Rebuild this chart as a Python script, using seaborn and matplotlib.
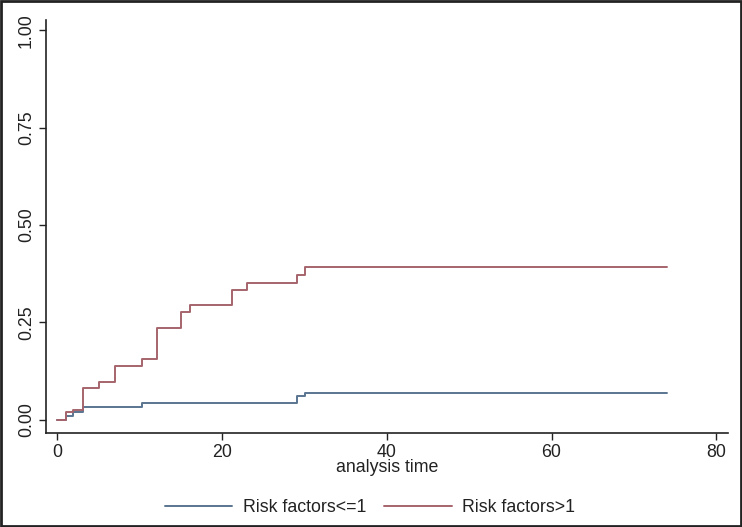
import pandas as pd
import numpy as np
import matplotlib
matplotlib.use('Agg')
import matplotlib.pyplot as plt
import seaborn as sns

# step times and cumulative failure values
low_time = [0, 1.05, 2.0, 3.2, 10.3, 29.1, 30.1, 74]
low_fail = [0.0, 0.011, 0.020, 0.034, 0.044, 0.062, 0.070, 0.070]

high_time = [0, 1.05, 2.0, 3.2, 5.1, 7.1, 10.3, 12.1, 15.0, 16.1, 21.2, 23.0, 29.1, 30.1, 74]
high_fail = [0.0, 0.020, 0.026, 0.081, 0.097, 0.137, 0.157, 0.235, 0.276, 0.295,
             0.332, 0.351, 0.372, 0.392, 0.392]

groups = ['Risk factors<=1', 'Risk factors>1']
colors = ['#5a7590', '#a5646c']

df = pd.concat([
    pd.DataFrame({'time': low_time, 'fail': low_fail, 'group': groups[0]}),
    pd.DataFrame({'time': high_time, 'fail': high_fail, 'group': groups[1]}),
])

sns.set_style('ticks')
plt.rcParams['font.family'] = ['Liberation Sans', 'DejaVu Sans']
fs = 12.8

fig = plt.figure(figsize=(7.42, 5.27), dpi=100)
ax = fig.add_axes([0.062, 0.179, 0.919, 0.783])

sns.lineplot(data=df, x='time', y='fail', hue='group', palette=colors,
             estimator=None, sort=False, drawstyle='steps-post',
             linewidth=1.4, ax=ax)

ax.set_xlim(-1.33, 81.4)
ax.set_ylim(-0.033, 1.026)
ax.set_xticks([0, 20, 40, 60, 80])
ax.set_yticks([0, 0.25, 0.5, 0.75, 1.0])
ax.set_yticklabels(['0.00', '0.25', '0.50', '0.75', '1.00'], rotation=90, va='center')
ax.tick_params(labelsize=fs, length=5, width=1, colors='#222222', pad=3)
ax.set_xlabel('analysis time', fontsize=fs, labelpad=-1, color='#222222')
ax.set_ylabel('')
for s in ['top', 'right']:
    ax.spines[s].set_visible(False)
for s in ['left', 'bottom']:
    ax.spines[s].set_linewidth(1.2)
    ax.spines[s].set_color('#222222')

handles, labels = ax.get_legend_handles_labels()
leg = ax.legend(handles, labels, loc='center', bbox_to_anchor=(370 / 742, 1 - 508 / 527),
                bbox_transform=fig.transFigure, ncol=2, frameon=False, fontsize=fs,
                handlelength=3.8, columnspacing=1.0, handletextpad=0.6)
for t in leg.get_texts():
    t.set_color('#222222')

# outer frame around the whole graph
fig.patches.append(plt.Rectangle((0.001, 0.001), 0.997, 0.997, transform=fig.transFigure,
                                 fill=False, edgecolor='#222222', linewidth=2))

fig.savefig('out.png', dpi=100)
